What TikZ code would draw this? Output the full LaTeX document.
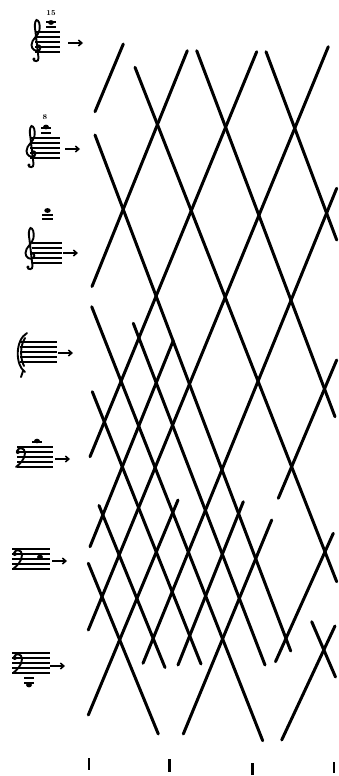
\documentclass[tikz,border=0pt]{standalone}
\usetikzlibrary{arrows.meta}
\newcommand{\mystaff}[3]{\foreach \k in {0,...,4}{\draw[staffl] (#1,{#3+5*\k}) -- (#2,{#3+5*\k});}}
\tikzset{
  gclef/.pic={
    \draw[clefl] (0.5,14) .. controls (3,12) and (5,15) .. (3,18)
      .. controls (0,20) and (-5,18) .. (-5,13)
      .. controls (-5,7) and (2,4) .. (3,-2)
      .. controls (4,-8) and (2,-12) .. (0,-12)
      .. controls (-2,-10) and (-2,-6) .. (-1,0)
      -- (2,26) .. controls (2.5,30) and (-3,30) .. (-3,27);
    \fill (-2.5,27) circle (1.6);
  },
  fclef/.pic={
    \draw[clefl] (1,4) .. controls (2,0) and (9,0) .. (9,6)
      .. controls (9,12) and (4,17) .. (0,20);
    \fill (1.8,5) circle (2);
  }
}
\begin{document}
\begin{tikzpicture}[x=1pt,y=-1pt,
  lat/.style={line width=3pt,line cap=round},
  tick/.style={line width=2.6pt},
  staffl/.style={line width=1.2pt},
  clefl/.style={line width=1.9pt,line cap=round},
  ledger/.style={line width=1.1pt},
  arr/.style={line width=1.5pt,-{Straight Barb[length=3.5pt,width=6pt]}},
  nhead/.style={fill=black,draw=none},
  small/.style={font=\fontsize{7.5}{7.5}\selectfont\bfseries,inner sep=0pt}]
\useasboundingbox (0,0) rectangle (338,776);

% ---------- lattice of lines: descending ( \ )
\draw[lat] (266,51.7) -- (336.7,240);
\draw[lat] (196.7,50.7) -- (335,416.7);
\draw[lat] (135,67.3) -- (336.7,581.7);
\draw[lat] (95,135) -- (290.7,651);
\draw[lat] (133.3,323.3) -- (265,665);
\draw[lat] (91.7,306.7) -- (262.7,740.7);
\draw[lat] (92.3,391.7) -- (201,664);
\draw[lat] (99,505.5) -- (165,667.5);
\draw[lat] (88.3,563.3) -- (158.3,734);
\draw[lat] (311.7,621.7) -- (335.5,677);
% ---------- rising ( / )
\draw[lat] (123.3,44) -- (95,111.7);
\draw[lat] (187.3,50.7) -- (92,286.5);
\draw[lat] (256.7,51.7) -- (90,456.7);
\draw[lat] (173.3,340.5) -- (90,546.7);
\draw[lat] (328.3,46.7) -- (88.3,630);
\draw[lat] (178,500) -- (88.3,715);
\draw[lat] (336.7,188.3) -- (143,663.3);
\draw[lat] (243.3,501.7) -- (178,665);
\draw[lat] (336.7,360) -- (278.3,498.3);
\draw[lat] (271.7,520) -- (183.3,734);
\draw[lat] (333.3,533.3) -- (275.5,661.7);
\draw[lat] (335,626) -- (281.7,740);

% ---------- ticks at the bottom
\draw[tick] (89,758) -- (89,770);
\draw[tick] (169.3,759) -- (169.3,772);
\draw[tick] (252.7,763) -- (252.7,775);
\draw[tick] (334,762) -- (334,773);

% ---------- label 1
\mystaff{35}{60}{32}
\pic (c1) at (36.5,32) {gclef};
\draw[ledger] (46,27) -- (56,27);
\draw[ledger] (46,22) -- (56,22);
\fill[nhead] (51,22.5) ellipse (3 and 2.4);
\node[small] (t1) at (51,13) {15};
\coordinate (a1s) at (68,43); \coordinate (a1e) at (83,43);
\draw[arr] (a1s) -- (a1e);

% ---------- label 2
\mystaff{30}{60}{138}
\pic (c2) at (31.5,138) {gclef};
\draw[ledger] (41,133) -- (51,133);
\draw[ledger] (41,128) -- (51,128);
\fill[nhead] (46,127) ellipse (3 and 2.4);
\node[small] (t2) at (45,117.5) {8};
\coordinate (a2s) at (65,149); \coordinate (a2e) at (80,149);
\draw[arr] (a2s) -- (a2e);

% ---------- label 3
\mystaff{32}{62}{243}
\pic (c3) at (30.5,240) {gclef};
\draw[ledger] (42,215) -- (53,215);
\draw[ledger] (42,219) -- (53,219);
\fill[nhead] (47.5,210.5) ellipse (3.2 and 2.4);
\coordinate (a3s) at (63,253); \coordinate (a3e) at (78,253);
\draw[arr] (a3s) -- (a3e);

% ---------- label 4
\mystaff{20}{57}{342}
\draw[clefl] (27,333) .. controls (15,340) and (15,365) .. (25,372);
\draw[clefl] (25,338) .. controls (20,346) and (20,358) .. (24,366);
\draw[clefl] (23,371) -- (21,377);
\coordinate (a4s) at (58,353); \coordinate (a4e) at (73,353);
\draw[arr] (a4s) -- (a4e);

% ---------- label 5
\mystaff{17}{53}{447}
\pic (c5) at (16,447) {fclef};
\draw[ledger] (32,442) -- (42,442);
\fill[nhead] (37,441) ellipse (3 and 2.3);
\coordinate (a5s) at (55,459); \coordinate (a5e) at (70,459);
\draw[arr] (a5s) -- (a5e);

% ---------- label 6
\mystaff{12}{50}{549}
\pic (c6) at (13,549) {fclef};
\fill[nhead] (40,557) ellipse (3 and 2.3);
\coordinate (a6s) at (52,561); \coordinate (a6e) at (67,561);
\draw[arr] (a6s) -- (a6e);

% ---------- label 7
\mystaff{12}{50}{653}
\pic (c7) at (13,653) {fclef};
\draw[ledger] (24,678) -- (34,678);
\draw[ledger] (24,683) -- (34,683);
\fill[nhead] (29,685) ellipse (3 and 2.4);
\coordinate (a7s) at (50,666); \coordinate (a7e) at (65,666);
\draw[arr] (a7s) -- (a7e);
\end{tikzpicture}
\end{document}
